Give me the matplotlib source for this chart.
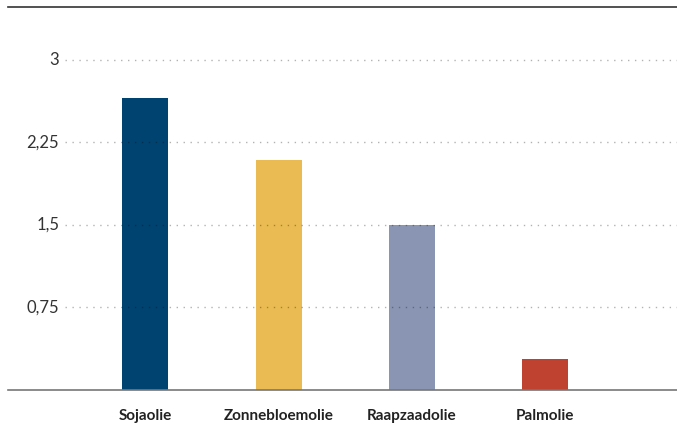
import numpy as np
import matplotlib
matplotlib.use("Agg")
import matplotlib.pyplot as plt

# data
categories = ["Sojaolie", "Zonnebloemolie", "Raapzaadolie", "Palmolie"]
values = [2.65, 2.09, 1.5, 0.28]
colors = ["#004370", "#E9BB52", "#8A95B3", "#BF412F"]
yticks = [0.75, 1.5, 2.25, 3]
ytick_labels = ["0,75", "1,5", "2,25", "3"]

plt.rcParams['font.family'] = ['Lato', 'DejaVu Sans']

fig = plt.figure(figsize=(6.77, 4.25), dpi=100)
ax = fig.add_axes([8/677, 1 - 390/425, 669/677, 383/425])

x = np.arange(len(categories))
ax.bar(x, values, width=0.345, color=colors, zorder=2)

ax.set_xlim(-1.03, 3.99)
ax.set_ylim(0, 3.48)

# dotted gridlines drawn over the bars
for t, lab in zip(yticks, ytick_labels):
    ax.axhline(t, xmin=0.085, xmax=1, color="black", alpha=0.3, lw=1,
               ls=(0, (1, 4)), zorder=3)
    ax.text(-0.645, t, lab, ha="right", va="center",
            fontsize=12, color="#333333")

ax.set_yticks([])
ax.set_xticks(x)
ax.set_xticklabels(categories, fontsize=11, fontweight="bold", color="#222222")
ax.tick_params(axis="x", length=0, pad=14)

for s in ["left", "right"]:
    ax.spines[s].set_visible(False)
ax.spines["bottom"].set_color("#777777")
ax.spines["bottom"].set_linewidth(1.2)
ax.spines["top"].set_color("#333333")
ax.spines["top"].set_linewidth(1.2)

plt.savefig("out.png", dpi=100)
